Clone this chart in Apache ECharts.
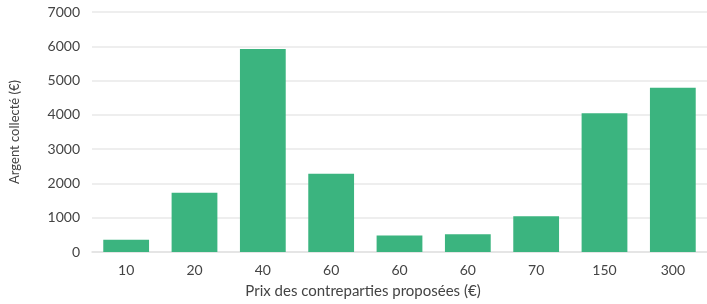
<!DOCTYPE html>
<html>
<head>
<meta charset="utf-8">
<script src="https://cdn.jsdelivr.net/npm/echarts@6/dist/echarts.min.js"></script>
<style>
html, body { margin: 0; padding: 0; background: #fff; }
#chart { width: 707px; height: 304px; }
</style>
</head>
<body>
<div id="chart"></div>
<script>
// prix des contreparties et argent collecté
var categories = ['10', '20', '40', '60', '60', '60', '70', '150', '300'];
var collected = [360, 1730, 5920, 2280, 480, 520, 1040, 4050, 4790];

var dom = document.getElementById('chart');
var myChart = echarts.init(dom);

var option = {
    backgroundColor: '#ffffff',
    textStyle: { fontFamily: 'Lato' },
    grid: { left: 90, right: -3, top: 12, bottom: 50 },
    xAxis: {
        type: 'category',
        data: categories,
        name: 'Prix des contreparties proposées (€)',
        nameLocation: 'middle',
        nameGap: 32,
        nameTextStyle: { color: '#444', fontSize: 15, padding: [0, 73, 0, 0] },
        axisLine: { lineStyle: { color: '#e2e2e2', width: 1.5 } },
        axisTick: { show: false },
        axisLabel: { color: '#444', fontSize: 14, margin: 11 }
    },
    yAxis: {
        type: 'value',
        min: 0,
        max: 7000,
        interval: 1000,
        name: 'Argent collecté (€)',
        nameLocation: 'middle',
        nameGap: 71,
        nameTextStyle: { color: '#444', fontSize: 13 },
        axisLabel: {
            color: '#444',
            fontSize: 14,
            margin: 12,
            formatter: function (v) { return String(v); }
        },
        splitLine: { lineStyle: { color: '#e8e8e8', width: 1.5 } }
    },
    series: [
        {
            name: 'Argent collecté',
            type: 'bar',
            data: collected,
            barCategoryGap: '33%',
            itemStyle: { color: '#3bb47f' }
        }
    ]
};

myChart.setOption(option, true);
</script>
</body>
</html>
